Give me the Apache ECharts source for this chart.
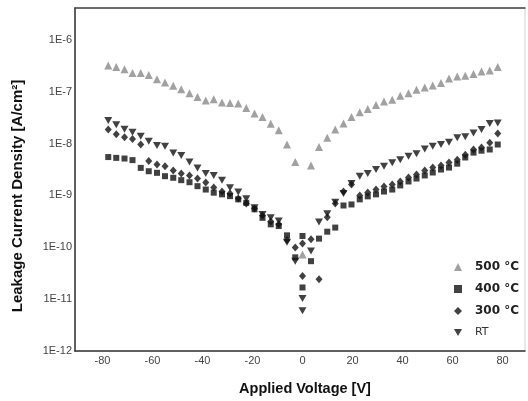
<!DOCTYPE html>
<html><head><meta charset="utf-8">
<script src="https://cdn.jsdelivr.net/npm/echarts@6/dist/echarts.min.js"></script>
<style>html,body{margin:0;padding:0;background:#fff}#c{width:528px;height:401px}</style>
</head><body><div id="c"></div><script>
// Voltage grid (V)
const vNeg = [-77.7,-74.5,-71.2,-68,-64.7,-61.5,-58.2,-55,-51.7,-48.5,-45.2,-42,-38.7,-35.5,-32.2,-29,-25.7,-22.5,-19.2,-16,-12.7,-9.5,-6.2,-2.9];
const vPos = [3.4,6.6,9.9,13.1,16.4,19.6,22.9,26.1,29.4,32.6,35.9,39.1,42.4,45.6,48.9,52.1,55.4,58.6,61.9,65.1,68.4,71.6,74.9,78.1];

const volt500 = [...vNeg, 0, ...vPos];
const j500 = [3.2e-7,3.0e-7,2.7e-7,2.3e-7,2.3e-7,2.1e-7,1.75e-7,1.5e-7,1.3e-7,1.12e-7,9.4e-8,7.9e-8,6.8e-8,7.2e-8,6.2e-8,6.05e-8,5.9e-8,4.85e-8,3.8e-8,3.25e-8,2.4e-8,1.8e-8,9.6e-9,4.4e-9,
  7.3e-11,
  3.8e-9,8.6e-9,1.29e-8,1.86e-8,2.43e-8,3.26e-8,4.0e-8,4.65e-8,5.55e-8,6.5e-8,7.0e-8,8.4e-8,9.4e-8,1.09e-7,1.21e-7,1.32e-7,1.47e-7,1.8e-7,1.97e-7,2.03e-7,2.19e-7,2.46e-7,2.57e-7,2.99e-7];

const volt400 = [...vNeg, 0, 0, ...vPos];
const j400 = [5.5e-9,5.3e-9,5.15e-9,4.8e-9,3.4e-9,2.93e-9,2.73e-9,2.35e-9,2.19e-9,1.97e-9,1.8e-9,1.51e-9,1.3e-9,1.13e-9,1.05e-9,9.7e-10,8.4e-10,7.2e-10,5.4e-10,3.7e-10,2.77e-10,2.57e-10,1.7e-10,6.4e-11,
  1.65e-10,1.68e-11,
  5.4e-11,1.47e-10,2.0e-10,2.4e-10,6.4e-10,6.7e-10,8.4e-10,9.6e-10,1.05e-9,1.19e-9,1.3e-9,1.56e-9,1.86e-9,2.12e-9,2.43e-9,2.77e-9,3.16e-9,3.45e-9,4.1e-9,5.4e-9,6.7e-9,7.3e-9,7.7e-9,9.6e-9];

const volt300 = [...vNeg, 0, 0, ...vPos];
const j300 = [1.86e-8,1.52e-8,1.33e-8,1.22e-8,9.6e-9,4.6e-9,3.95e-9,3.66e-9,3.03e-9,2.65e-9,2.43e-9,2.12e-9,1.78e-9,1.43e-9,1.19e-9,1.09e-9,8.75e-10,7.0e-10,5.6e-10,4.1e-10,3.16e-10,2.77e-10,1.38e-10,9.9e-11,
  1.19e-10,2.8e-11,
  1.43e-10,2.43e-11,3.8e-10,7.0e-10,1.19e-9,1.63e-9,1.0e-9,1.14e-9,1.3e-9,1.49e-9,1.63e-9,1.86e-9,2.22e-9,2.53e-9,3.03e-9,3.45e-9,3.78e-9,4.3e-9,4.9e-9,6.1e-9,7.7e-9,8.4e-9,1.04e-8,1.56e-8];

const voltRT = [...vNeg, 0, 0, ...vPos];
const jRT = [2.8e-8,2.3e-8,1.9e-8,1.65e-8,1.38e-8,1.11e-8,9.2e-9,8.9e-9,6.6e-9,5.9e-9,4.4e-9,3.4e-9,2.65e-9,2.43e-9,1.97e-9,1.4e-9,1.16e-9,8.6e-10,5.8e-10,4.3e-10,3.7e-10,3.2e-10,1.25e-10,5.4e-11,
  1.03e-11,6.0e-12,
  8.5e-11,3.07e-10,4.45e-10,7.4e-10,1.09e-9,1.7e-9,2.35e-9,2.65e-9,3.16e-9,3.66e-9,4.25e-9,4.9e-9,5.7e-9,6.4e-9,7.9e-9,8.9e-9,9.6e-9,1.06e-8,1.29e-8,1.35e-8,1.6e-8,1.86e-8,2.43e-8,2.5e-8];

const seriesNames = ['500 °C','400 °C','300 °C','RT'];
const xTicks = [-80,-60,-40,-20,0,20,40,60,80];

const pairs = (xs, ys) => xs.map((x, i) => [x, ys[i]]);
const invTri = 'path://M0,0 L10,0 L5,9 Z';

const chart = echarts.init(document.getElementById('c'));
const isDecade = v => { const e = Math.log10(v); return Math.abs(e - Math.round(e)) < 1e-6; };

chart.setOption({
  animation: false,
  backgroundColor: '#fff',
  textStyle: { fontFamily: 'Liberation Sans, Arial, sans-serif' },
  grid: { left: 75, top: 8, right: 3, bottom: 48, show: true, borderColor: '#d0d0d0', borderWidth: 1 },
  xAxis: [{
    type: 'value', min: -91, max: 89, splitNumber: 9,
    axisLine: { show: true, onZero: false, lineStyle: { color: '#333', width: 1.5 } },
    axisTick: { show: false }, splitLine: { show: false },
    axisLabel: { color: '#444', fontSize: 11, margin: 4,
      formatter: v => xTicks.includes(v) ? String(v) : '' },
    name: 'Applied Voltage [V]', nameLocation: 'middle', nameGap: 30,
    nameTextStyle: { fontWeight: 'bold', fontSize: 14.5, color: '#111', padding: [0, 0, 0, 10] }
  }, {
    type: 'value', position: 'top', min: -91, max: 89,
    axisLine: { show: true, onZero: false, lineStyle: { color: '#444', width: 1.5 } },
    axisTick: { show: false }, axisLabel: { show: false }, splitLine: { show: false }
  }],
  yAxis: {
    type: 'log', logBase: 10, min: 1e-12, max: 4.12e-6,
    axisLine: { show: true, onZero: false, lineStyle: { color: '#333', width: 1.5 } },
    axisTick: { show: false }, splitLine: { show: false }, minorTick: { show: false },
    axisLabel: { color: '#444', fontSize: 11, margin: 3, showMaxLabel: false,
      formatter: v => isDecade(v) ? '1E' + Math.round(Math.log10(v)) : '' }
  },
  graphic: [{
    type: 'text', x: 18, y: 196, rotation: Math.PI / 2,
    style: { text: 'Leakage Current Density [A/cm²]', font: 'bold 15px "Liberation Sans", Arial, sans-serif',
      fill: '#111', align: 'center', verticalAlign: 'middle' }
  }],
  legend: {
    orient: 'vertical', left: 449, top: 256, itemWidth: 8, itemHeight: 8, itemGap: 10,
    data: seriesNames,
    formatter: n => n === 'RT' ? '{r|' + n + '}' : '{b|' + n + '}',
    textStyle: {
      rich: {
        b: { fontFamily: 'DejaVu Sans', fontWeight: 'bold', fontSize: 12, color: '#222', padding: [0, 0, 0, 8], height: 14 },
        r: { fontFamily: 'DejaVu Sans', fontSize: 11, color: '#333', padding: [0, 0, 0, 8], height: 14 }
      }
    }
  },
  series: [
    { name: seriesNames[0], type: 'scatter', symbol: 'triangle', symbolSize: 8, itemStyle: { color: '#8a8a8a' }, data: pairs(volt500, j500) },
    { name: seriesNames[1], type: 'scatter', symbol: 'rect', symbolSize: 6, itemStyle: { color: '#111' }, data: pairs(volt400, j400) },
    { name: seriesNames[2], type: 'scatter', symbol: 'diamond', symbolSize: [7, 8], itemStyle: { color: '#111' }, data: pairs(volt300, j300) },
    { name: seriesNames[3], type: 'scatter', symbol: invTri, symbolSize: [8, 7], itemStyle: { color: '#111' }, data: pairs(voltRT, jRT) }
  ]
});
</script></body></html>
